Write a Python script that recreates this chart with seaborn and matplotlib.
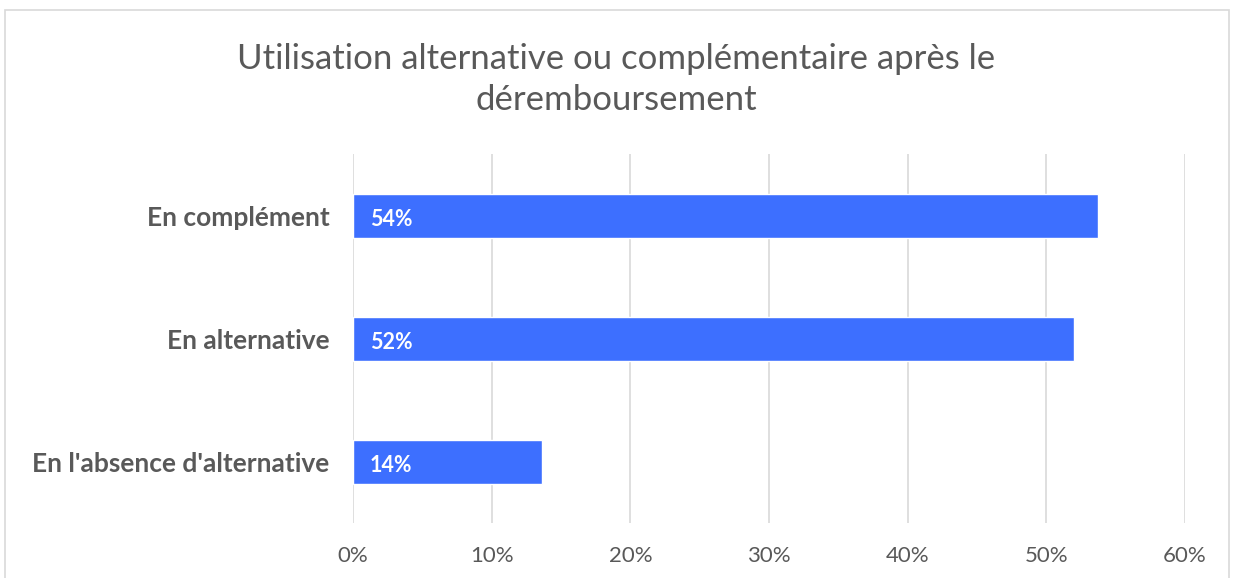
import matplotlib
matplotlib.use("Agg")
import matplotlib.pyplot as plt
import seaborn as sns
import pandas as pd
from matplotlib.patches import Rectangle
from matplotlib.ticker import FuncFormatter

# data
categories = ["En complément", "En alternative", "En l'absence d'alternative"]
values = [0.537, 0.520, 0.136]
labels = ["54%", "52%", "14%"]
xticks = [0, 0.1, 0.2, 0.3, 0.4, 0.5, 0.6]

df = pd.DataFrame({"categorie": categories, "part": values})

sns.set_theme(style="white")
plt.rcParams["font.family"] = ["Lato", "DejaVu Sans"]

grey = "#595959"
bar_color = "#3D6FFF"

fig = plt.figure(figsize=(12.33, 5.78), dpi=100)
ax = fig.add_axes([0.2863, 0.0943, 0.6748, 0.6384])

sns.barplot(data=df, x="part", y="categorie", color=bar_color, width=0.35,
            saturation=1, ax=ax, zorder=3)

ax.set_xlim(0, 0.6)
ax.set_xticks(xticks)
ax.xaxis.set_major_formatter(FuncFormatter(lambda v, p: f"{v*100:.0f}%"))
ax.grid(axis="x", color="#D9D9D9", linewidth=1.2, zorder=0)
ax.grid(axis="y", visible=False)
for s in ax.spines.values():
    s.set_visible(False)

ax.set_xlabel("")
ax.set_ylabel("")
ax.tick_params(axis="x", length=0, pad=16, labelsize=16, labelcolor=grey)
ax.tick_params(axis="y", length=0, pad=17, labelsize=19, labelcolor=grey)
for t in ax.get_yticklabels():
    t.set_fontweight("bold")

# value labels inside the bars, near the base
for i, (v, lab) in enumerate(zip(values, labels)):
    ax.text(0.012, i + 0.03, lab, color="white", fontsize=15.5, fontweight="bold",
            va="center", ha="left", zorder=4)

fig.text(0.5, 0.862, "Utilisation alternative ou complémentaire après le\ndéremboursement",
         ha="center", va="center", fontsize=25, color=grey, linespacing=1.35)

# light frame around the chart area
fig.patches.append(Rectangle((5 / 1233, -0.01), 1224 / 1233, 1 - 10 / 578 + 0.01,
                             transform=fig.transFigure, fill=False,
                             edgecolor="#D9D9D9", linewidth=1.2))

fig.savefig("out.png", dpi=100)
